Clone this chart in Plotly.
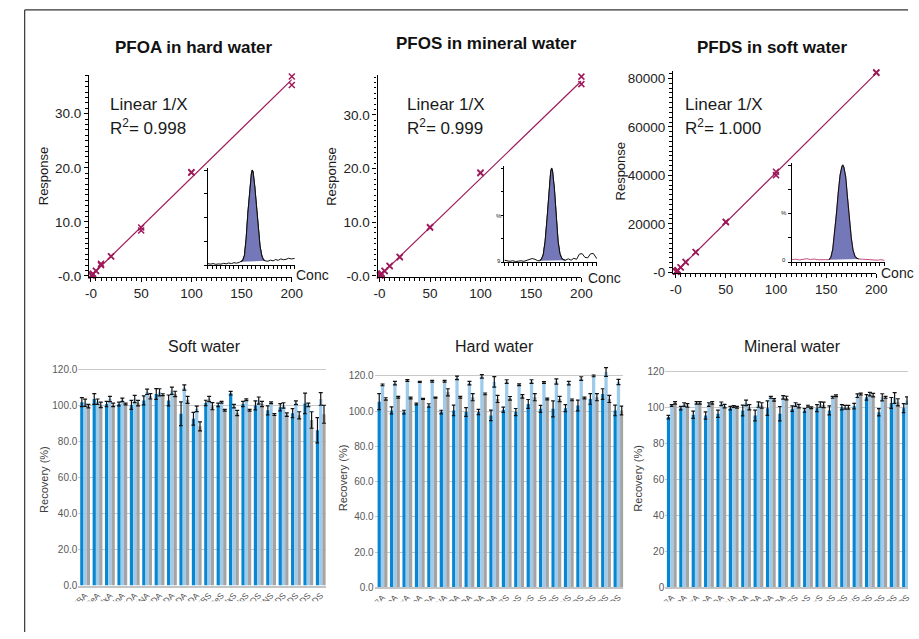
import plotly.graph_objects as go

W, H = 919, 639
FONT = "Liberation Sans, Arial, sans-serif"

# ---------------- calibration curves ----------------
cal_conc = [0.5, 0.5, 1, 1, 2, 2, 5, 5, 10, 10, 20, 20, 50, 50, 100, 100, 200, 200]
pfoa_resp = [0.08, 0.12, 0.18, 0.22, 0.40, 0.35, 0.95, 0.90, 2.00, 2.25, 3.60, 3.65,
             8.95, 8.40, 19.2, 19.1, 36.9, 35.3]
pfos_resp = [0.10, 0.15, 0.20, 0.25, 0.40, 0.45, 0.92, 0.95, 1.80, 1.90, 3.50, 3.55,
             9.00, 9.10, 19.1, 19.25, 37.1, 35.7]
pfds_resp = [190, 210, 400, 420, 800, 830, 1960, 2050, 4280, 4200, 8370, 8300,
             20700, 20800, 41500, 40100, 82500, 82300]

# slope, intercept of the 1/X weighted fits
pfoa_fit = [0.1815, 0.0]
pfos_fit = [0.1815, -0.02]
pfds_fit = [411.0, 0.0]
fit_range = [0, 200]

cal_titles = ["PFOA in hard water", "PFOS in mineral water", "PFDS in soft water"]
cal_r2 = ["0.998", "0.999", "1.000"]

# ---------------- chromatograms (time %, intensity %) ----------------
chrom1_t = [0, 3, 6, 9, 12, 15, 18, 21, 24, 27, 30, 33, 36,
            38, 40, 42, 44, 46, 48, 50, 51, 52, 54, 56, 58, 60, 62, 64, 66,
            69, 72, 75, 78, 81, 84, 87, 90, 93, 96, 100]
chrom1_i = [1.5, 1.0, 1.6, 0.8, 1.2, 1.0, 1.8, 1.3, 2.2, 1.6, 2.5, 2.0, 2.8,
            3.5, 5, 10, 28, 55, 78, 96, 100, 98, 82, 58, 36, 20, 10, 5.5, 4.5,
            4.0, 5.2, 4.4, 5.8, 5.0, 6.5, 5.6, 6.0, 7.2, 6.4, 7.0]
chrom1_peak = [38, 66]

chrom2_t = [0, 3, 6, 9, 12, 15, 18, 21, 24, 27, 30, 33, 36,
            38, 40, 42, 44, 46, 48, 50, 51, 52, 54, 56, 58, 60, 62, 64, 66,
            69, 72, 75, 78, 81, 84, 87, 90, 93, 96, 100]
chrom2_i = [2.0, 1.2, 0.8, 1.5, 0.6, 1.0, 1.4, 0.8, 1.8, 2.6, 3.8, 3.0, 1.5,
            1.5, 3, 8, 22, 45, 75, 96, 100, 97, 78, 48, 22, 9, 4, 2.5, 2.0,
            3.5, 2.0, 4.0, 3.0, 8.5, 9.0, 5.0, 4.5, 8.8, 9.2, 3.5]
chrom2_peak = [38, 66]

chrom3_t = [0, 4, 8, 12, 16, 20, 24, 28, 32, 36,
            40, 42, 44, 46, 48, 50, 52, 54, 55, 56, 58, 60, 62, 64, 66, 68, 70, 72,
            76, 80, 84, 88, 92, 96, 100]
chrom3_i = [2.5, 3.0, 2.2, 2.8, 3.5, 2.6, 3.2, 2.4, 2.8, 2.5,
            2.5, 5, 13, 30, 50, 72, 90, 99, 100, 98, 88, 66, 44, 25, 12, 6, 4, 3.2,
            3.0, 2.6, 2.8, 2.2, 2.0, 2.5, 1.8]
chrom3_peak = [40, 72]

# ---------------- recovery bar charts ----------------
analytes = ["PFBA", "PFPeA", "PFHxA", "PFHpA", "PFOA", "PFNA", "PFDA", "PFUnDA",
            "PFDoDA", "PFTrDA", "PFBS", "PFPeS", "PFHxS", "PFHpS", "PFOS", "PFNS",
            "PFDS", "PFUnDS", "PFDoDS", "PFTrDS"]

soft_a = [102, 103.8, 101, 101, 100.5, 103, 106.6, 103, 95.6, 92.8,
          101.6, 100.5, 107, 101, 100.2, 97.5, 99.2, 95.9, 101.3, 86.4]
soft_a_err = [2.5, 3, 1.5, 1, 2.5, 2.5, 3, 3, 6.6, 3.5, 1.5, 1, 1, 1.5, 2.5, 2.5, 2, 2.5, 5.7, 7]
soft_b = [101.7, 102.3, 103.8, 103.3, 103.8, 107.8, 107.5, 108.4, 110.2, 98.3,
          103.8, 102, 99.8, 103.4, 102.9, 101.7, 100.2, 101.7, 100.5, 103.8]
soft_b_err = [2, 1.5, 1.5, 1, 2, 1.5, 2, 2, 1.5, 1.5, 1.5, 0.5, 1, 0.5, 2, 0.5, 1.5, 1, 1, 3.5]
soft_c = [99.8, 100.5, 100.5, 101, 101.5, 105.3, 106.2, 106.6, 103.3, 88.6,
          99.8, 97.5, 96, 97.5, 101, 95.1, 95.1, 94.7, 92.1, 95.3]
soft_c_err = [1, 1.5, 1, 0.5, 1.5, 1.5, 0.5, 1.5, 2, 2.5, 2, 0.5, 1.5, 0.5, 1.5, 0.5, 1, 2, 4.6, 5]

hard_a = [105.4, 100.4, 99.5, 104.1, 103.2, 99.5, 100.4, 99.5, 99.5, 97.6,
          100.8, 99.5, 104.1, 101.3, 101.3, 101.7, 103.2, 106.9, 109.7, 100.4]
hard_a_err = [4.5, 2, 1, 0.5, 1, 1, 3, 2.5, 1.5, 3, 1.5, 2, 2.5, 2, 4.5, 2, 3, 3, 3, 3]
hard_b = [114.9, 115.9, 117.4, 116.6, 117, 117, 118.9, 115.9, 119.7, 116.6,
          116.8, 115, 116.8, 116.2, 116.8, 115.9, 118.5, 120, 122.2, 116.5]
hard_b_err = [0.5, 1, 0.5, 0.3, 0.5, 0.5, 1, 1, 1, 3, 1, 0.5, 1, 0.5, 1.5, 1, 1, 0.5, 2.5, 1.5]
hard_c = [106.9, 107.9, 107.5, 106.9, 107.7, 110.7, 107.9, 107.9, 109.8, 106.9,
          107.3, 108.4, 107.9, 106.9, 106.9, 106.4, 107.5, 107.9, 106.9, 100.4]
hard_c_err = [0.7, 0.5, 0.5, 0.3, 0.3, 2, 0.5, 2, 0.5, 2, 1, 1, 2, 0.5, 1.5, 0.5, 0.5, 2, 2, 2.5]

mineral_a = [94.7, 99.7, 96, 95.6, 96.6, 99.7, 98.4, 95.6, 99.7, 96.6,
             99.4, 98.4, 99.7, 98.4, 100.2, 100.8, 105.7, 97.4, 102.6, 99.7]
mineral_a_err = [1, 1, 2, 2, 2, 1, 3, 3, 4, 4, 1.5, 1, 2, 2.5, 1.5, 1.5, 1.5, 2, 3, 2.5]
mineral_b = [101.2, 101.7, 102.6, 101.7, 102.1, 100.6, 102.6, 101.7, 105.7, 105.7,
             101.7, 100.8, 101.7, 105.7, 100.2, 106.6, 107.5, 105.7, 105.3, 104]
mineral_b_err = [0.5, 1, 0.7, 1, 1, 0.5, 1.5, 1.5, 0.5, 1, 1, 0.5, 1.5, 0.5, 1, 1, 1, 2, 3, 2]
mineral_c = [102.6, 101.2, 102.6, 102.6, 100.8, 100.2, 100.2, 101.2, 104.3, 105.3,
             100.8, 99.9, 101.5, 106.6, 100.2, 107.5, 106.9, 105.7, 102.9, 103]
mineral_c_err = [0.7, 1, 0.7, 0.7, 1, 0.5, 1.5, 1.5, 0.7, 1, 1, 0.5, 1.5, 0.5, 1, 0.5, 1, 0.5, 2, 2]

recovery_ticks = [0, 20, 40, 60, 80, 100, 120]

COL_A, COL_B, COL_C = "#0787d2", "#9ecbec", "#a4a4a4"
CAL_COL = "#9e1a5a"


def xdom(a, b):
    return [a / W, b / W]


def ydom(top, bottom):
    return [1 - bottom / H, 1 - top / H]


fig = go.Figure()
layout = dict(
    width=W, height=H, margin=dict(l=0, r=0, t=0, b=0),
    paper_bgcolor="white", plot_bgcolor="rgba(0,0,0,0)",
    showlegend=False, barmode="group", bargap=0.21, bargroupgap=0,
    font=dict(family=FONT, color="#222"),
)
annotations = []


def ann(text, px, py, size, xanchor="center", angle=0, bold=False, color="#1a1a1a"):
    if bold:
        text = "<b>" + text + "</b>"
    annotations.append(dict(
        text=text, x=px / W, y=1 - py / H, xref="paper", yref="paper",
        xanchor=xanchor, yanchor="middle", showarrow=False, textangle=angle,
        font=dict(family=FONT, size=size, color=color)))


# ---------------- calibration panels ----------------
cal_panels = [
    dict(n=1, resp=pfoa_resp, fit=pfoa_fit, xbox=(79, 287), ybox=(76, 280),
         xr=[-1.94, 200], yr=[-0.18, 37.13],
         yt=[0, 10, 20, 30], ytt=["-0.0", "10.0", "20.0", "30.0"], ymin=1),
    dict(n=2, resp=pfos_resp, fit=pfos_fit, xbox=(375, 584), ybox=(76, 280),
         xr=[-1.93, 200], yr=[-0.18, 37.37],
         yt=[0, 10, 20, 30], ytt=["-0.0", "10.0", "20.0", "30.0"], ymin=1),
    dict(n=3, resp=pfds_resp, fit=pfds_fit, xbox=(678, 886.5), ybox=(72, 276),
         xr=[-2.6, 200], yr=[-286, 82980],
         yt=[0, 20000, 40000, 60000, 80000],
         ytt=["-0", "20000", "40000", "60000", "80000"], ymin=2000),
]

for p in cal_panels:
    n = p["n"]
    xa, ya = f"x{n}", f"y{n}"
    fig.add_trace(go.Scatter(
        x=fit_range, y=[p["fit"][0] * v + p["fit"][1] for v in fit_range],
        mode="lines", line=dict(color=CAL_COL, width=1.2),
        xaxis=xa, yaxis=ya, cliponaxis=False, hoverinfo="skip"))
    fig.add_trace(go.Scatter(
        x=cal_conc, y=p["resp"], mode="markers",
        marker=dict(symbol="x-thin-open", size=6, color=CAL_COL,
                    line=dict(color=CAL_COL, width=1.5)),
        xaxis=xa, yaxis=ya, cliponaxis=False))
    layout[f"xaxis{n}"] = dict(
        domain=xdom(*p["xbox"]), range=p["xr"], anchor=ya,
        showline=True, linecolor="black", linewidth=1.3,
        ticks="outside", ticklen=4, tickwidth=1, tickcolor="black",
        tickmode="array", tickvals=[0, 50, 100, 150, 200],
        ticktext=["-0", "50", "100", "150", "200"],
        minor=dict(ticks="outside", ticklen=2.5, tickmode="linear", tick0=0,
                   dtick=5, tickcolor="black", tickwidth=1),
        showgrid=False, zeroline=False,
        tickfont=dict(family=FONT, size=13.5, color="#222"))
    layout[f"yaxis{n}"] = dict(
        domain=ydom(*p["ybox"]), range=p["yr"], anchor=xa,
        showline=True, linecolor="black", linewidth=1.3,
        ticks="outside", ticklen=4, tickwidth=1, tickcolor="black",
        tickmode="array", tickvals=p["yt"], ticktext=p["ytt"],
        minor=dict(ticks="outside", ticklen=2.5, tickmode="linear", tick0=0,
                   dtick=p["ymin"], tickcolor="black", tickwidth=1),
        showgrid=False, zeroline=False,
        tickfont=dict(family=FONT, size=13.5, color="#222"))

# titles, fit text and axis names
for title, r2, (tx, ty), lx, (rx, ry), cx, cy in zip(
        cal_titles, cal_r2,
        [(187, 48), (487, 44), (780, 48)],
        [98, 403, 688],
        [(32, 178), (327, 178), (624, 173)],
        [289, 589, 889], [278, 281, 276]):
    ann(title, tx, ty, 17, bold=True, color="#111")
    ann("Linear 1/X", lx, 106, 17, xanchor="left")
    ann("R<sup>2</sup>= " + r2, lx, 128, 17, xanchor="left")
    ann("Response", rx, ry, 13, angle=-90)
    ann("Conc", cx, cy, 14, xanchor="left")

# ---------------- chromatogram insets ----------------
insets = [
    dict(n=4, t=chrom1_t, i=chrom1_i, pk=chrom1_peak, xbox=(201, 290), ybox=(170, 268),
         line="#111"),
    dict(n=5, t=chrom2_t, i=chrom2_i, pk=chrom2_peak, xbox=(505, 600), ybox=(168, 265),
         line="#111"),
    dict(n=6, t=chrom3_t, i=chrom3_i, pk=chrom3_peak, xbox=(800, 895), ybox=(165, 265),
         line="#c0507e"),
]
for p in insets:
    n = p["n"]
    xa, ya = f"x{n}", f"y{n}"
    fig.add_trace(go.Scatter(x=p["t"], y=p["i"], mode="lines",
                             line=dict(color=p["line"], width=1),
                             xaxis=xa, yaxis=ya, hoverinfo="skip"))
    s = p["t"].index(p["pk"][0])
    e = p["t"].index(p["pk"][1]) + 1
    fig.add_trace(go.Scatter(x=p["t"][s:e], y=p["i"][s:e], mode="lines",
                             fill="toself", fillcolor="#7478b8",
                             line=dict(color="#111", width=1.1),
                             xaxis=xa, yaxis=ya, hoverinfo="skip"))
    layout[f"xaxis{n}"] = dict(
        domain=xdom(*p["xbox"]), range=[0, 100], anchor=ya,
        showline=True, linecolor="black", linewidth=1,
        ticks="outside", ticklen=2.5, tickwidth=0.8, tickcolor="black",
        dtick=5, showticklabels=False, showgrid=False, zeroline=False)
    layout[f"yaxis{n}"] = dict(
        domain=ydom(*p["ybox"]), range=[0, 102], anchor=xa,
        showline=True, linecolor="black", linewidth=1,
        ticks="outside", ticklen=2.5, tickwidth=0.8, tickcolor="black",
        dtick=25, showticklabels=False, showgrid=False, zeroline=False)

ann("%", 499, 218, 6)
ann("9", 499, 264, 6)
ann("%", 792, 215, 6)
ann("0", 792, 263, 6)

# ---------------- recovery panels ----------------
bar_panels = [
    dict(n=7, title="Soft water", tpos=(197, 350), rpos=(32, 485),
         data=[(soft_a, soft_a_err), (soft_b, soft_b_err), (soft_c, soft_c_err)],
         xbox=(68, 322), xr=[-0.55, 19.42], zero=592, ppu=1.817,
         ticktext=["0.0", "20.0", "40.0", "60.0", "80.0", "100.0", "120.0"]),
    dict(n=8, title="Hard water", tpos=(495, 350), rpos=(339, 483),
         data=[(hard_a, hard_a_err), (hard_b, hard_b_err), (hard_c, hard_c_err)],
         xbox=(372, 627), xr=[-0.63, 19.39], zero=594, ppu=1.783,
         ticktext=["0.0", "20.0", "40.0", "60.0", "80.0", "100.0", "120.0"]),
    dict(n=9, title="Mineral water", tpos=(801, 350), rpos=(642, 483),
         data=[(mineral_a, mineral_a_err), (mineral_b, mineral_b_err),
               (mineral_c, mineral_c_err)],
         xbox=(670, 919), xr=[-0.53, 19.08], zero=594, ppu=1.819,
         ticktext=["0", "20", "40", "60", "80", "100", "120"]),
]
YMAX = 126
for p in bar_panels:
    n = p["n"]
    xa, ya = f"x{n}", f"y{n}"
    for (vals, errs), col in zip(p["data"], [COL_A, COL_B, COL_C]):
        fig.add_trace(go.Bar(
            x=list(range(len(analytes))), y=vals, marker=dict(color=col, line=dict(width=0)),
            error_y=dict(type="data", array=errs, color="#111", thickness=1.2, width=2),
            xaxis=xa, yaxis=ya, cliponaxis=False))
    top = p["zero"] - YMAX * p["ppu"]
    layout[f"xaxis{n}"] = dict(
        domain=xdom(*p["xbox"]), range=p["xr"], anchor=ya,
        tickmode="array", tickvals=list(range(len(analytes))), ticktext=analytes,
        tickangle=-45, tickfont=dict(family=FONT, size=8.5, color="#595959"),
        showline=True, linecolor="#c4c4c4", linewidth=1.5, ticks="",
        showgrid=False, zeroline=False)
    layout[f"yaxis{n}"] = dict(
        domain=ydom(top, p["zero"]), range=[0, YMAX], anchor=xa,
        tickmode="array", tickvals=recovery_ticks, ticktext=p["ticktext"],
        tickfont=dict(family=FONT, size=10, color="#595959"),
        showgrid=True, gridcolor="#c8c8c8", gridwidth=1.4,
        showline=False, zeroline=False, ticks="")
    ann(p["title"], p["tpos"][0], p["tpos"][1], 16, color="#1a1a1a")
    ann("Recovery (%)", p["rpos"][0], p["rpos"][1], 11, angle=-90, color="#404040")

layout["annotations"] = annotations
layout["shapes"] = [
    # lower strip below the category labels
    dict(type="rect", xref="paper", yref="paper", x0=14 / W, x1=1,
         y0=0, y1=1 - 608 / H, fillcolor="white", line=dict(width=0), layer="above"),
    # page frame
    dict(type="line", xref="paper", yref="paper", x0=13 / W, x1=13 / W,
         y0=0, y1=1 - 10 / H, line=dict(color="#333", width=1.2), layer="above"),
    dict(type="line", xref="paper", yref="paper", x0=13 / W, x1=1,
         y0=1 - 10 / H, y1=1 - 10 / H, line=dict(color="#333", width=1.2), layer="above"),
]

fig.update_layout(**layout)
fig.write_html("out.html",
               post_script="document.body.style.margin='0';document.body.style.overflow='hidden';")
